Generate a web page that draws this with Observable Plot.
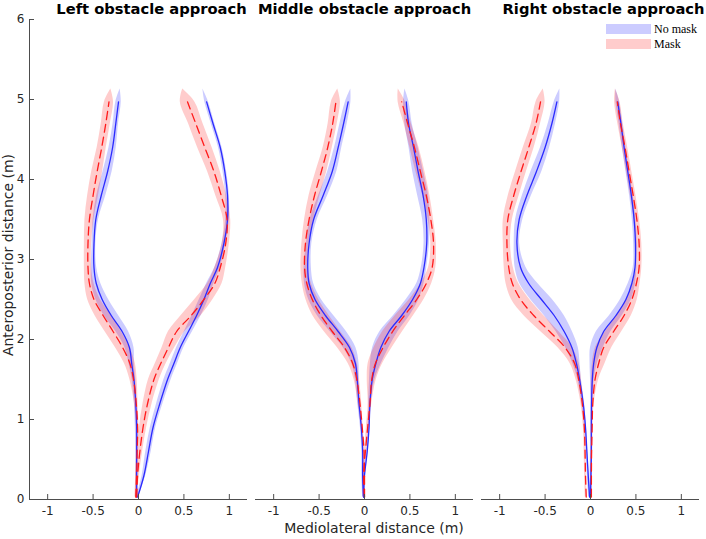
<!DOCTYPE html>
<html>
<head>
<meta charset="utf-8">
<script src="https://cdn.jsdelivr.net/npm/d3@7"></script>
<script src="https://cdn.jsdelivr.net/npm/@observablehq/plot@0.6"></script>
<style>
  html, body { margin: 0; padding: 0; background: #fff; }
  #wrap { position: relative; width: 706px; height: 539px; font-family: "DejaVu Sans", sans-serif; }
  #chart { position: absolute; left: 0; top: 0; }
  .lbl { position: absolute; color: #262626; font-size: 14px; white-space: nowrap; }
  #ylab { left: 8px; top: 255px; transform: translate(-50%, -50%) rotate(-90deg); }
  #xlab { left: 374px; top: 528px; transform: translate(-50%, -50%); }
  .leg { position: absolute; font-family: "Liberation Serif", "Times New Roman", serif; font-size: 12px; color: #000; }
  .sw { position: absolute; width: 45px; height: 10px; }
</style>
</head>
<body>
<div id="wrap">
  <div id="chart"></div>
  <div class="lbl" id="ylab">Anteroposterior distance (m)</div>
  <div class="lbl" id="xlab">Mediolateral distance (m)</div>
  <div class="sw" style="left:606px;top:24px;background:#ccccff"></div>
  <div class="leg" style="left:654px;top:22px">No mask</div>
  <div class="sw" style="left:606px;top:39px;background:#ffcccc"></div>
  <div class="leg" style="left:654px;top:37px">Mask</div>
</div>
<script>
// ---- Data ----
const panels = ["Left obstacle approach", "Middle obstacle approach", "Right obstacle approach"];
const conditions = ["No mask", "Mask"];
const xTicks = [-1, -0.5, 0, 0.5, 1];
const yTicks = [0, 1, 2, 3, 4, 5, 6];
const xDomain = [-1.2, 1.2];
const yDomain = [0, 6];

// anteroposterior levels (m) at which the mean paths were read
const levels = [0.03, 0.3, 0.6, 0.9, 1.2, 1.5, 1.7, 1.9, 2.1, 2.3, 2.5, 2.7, 2.9, 3.2, 3.5, 3.8, 4.1, 4.4, 4.7, 4.97];

// Left obstacle approach
const leftNoMaskA = [-0.02,-0.02,-0.02,-0.02,-0.03,-0.05,-0.075,-0.10,-0.18,-0.30,-0.40,-0.465,-0.49,-0.49,-0.47,-0.41,-0.34,-0.285,-0.25,-0.22];
const leftNoMaskB = [-0.01,0.06,0.11,0.16,0.235,0.32,0.39,0.46,0.55,0.64,0.72,0.79,0.87,0.94,0.98,0.98,0.95,0.90,0.82,0.75];
const leftMaskA   = [-0.03,-0.02,-0.015,-0.01,-0.025,-0.055,-0.095,-0.175,-0.28,-0.39,-0.49,-0.54,-0.556,-0.556,-0.54,-0.50,-0.455,-0.405,-0.36,-0.325];
const leftMaskB   = [-0.02,-0.01,0.015,0.05,0.10,0.17,0.245,0.33,0.42,0.58,0.72,0.84,0.90,0.96,0.975,0.91,0.83,0.73,0.63,0.54];
const leftNoMaskA_sd = [0.01,0.01,0.01,0.015,0.015,0.02,0.03,0.05,0.07,0.08,0.07,0.05,0.03,0.02,0.03,0.05,0.05,0.04,0.03,0.03];
const leftNoMaskB_sd = [0.01,0.02,0.03,0.03,0.035,0.04,0.04,0.04,0.045,0.05,0.05,0.04,0.03,0.02,0.02,0.02,0.02,0.02,0.02,0.02];
const leftMaskA_sd   = [0.01,0.01,0.01,0.015,0.02,0.04,0.06,0.08,0.09,0.09,0.07,0.05,0.04,0.04,0.05,0.06,0.06,0.05,0.05,0.05];
const leftMaskB_sd   = [0.01,0.02,0.03,0.04,0.05,0.06,0.06,0.07,0.09,0.11,0.10,0.08,0.06,0.04,0.04,0.06,0.07,0.08,0.08,0.08];

// Middle obstacle approach
const midNoMaskA = [-0.01,-0.02,-0.02,-0.035,-0.06,-0.08,-0.10,-0.165,-0.29,-0.43,-0.545,-0.61,-0.625,-0.61,-0.56,-0.455,-0.355,-0.29,-0.23,-0.18];
const midNoMaskB = [-0.01,0.0,0.03,0.05,0.06,0.085,0.125,0.18,0.27,0.41,0.53,0.615,0.655,0.685,0.68,0.645,0.59,0.54,0.485,0.46];
const midMaskA   = [0,0,-0.005,-0.025,-0.05,-0.085,-0.13,-0.22,-0.355,-0.48,-0.575,-0.635,-0.66,-0.65,-0.61,-0.55,-0.475,-0.405,-0.35,-0.315];
const midMaskB   = [0,-0.01,0.01,0.035,0.06,0.08,0.12,0.205,0.31,0.44,0.575,0.68,0.745,0.76,0.73,0.68,0.615,0.55,0.475,0.41];
const midNoMaskA_sd = [0.01,0.01,0.01,0.01,0.015,0.02,0.04,0.07,0.09,0.09,0.07,0.05,0.04,0.03,0.04,0.05,0.05,0.04,0.04,0.03];
const midNoMaskB_sd = [0.01,0.01,0.01,0.01,0.015,0.03,0.06,0.09,0.10,0.09,0.07,0.04,0.03,0.03,0.04,0.06,0.06,0.05,0.04,0.03];
const midMaskA_sd   = [0.01,0.01,0.01,0.01,0.02,0.03,0.05,0.08,0.09,0.09,0.07,0.05,0.04,0.04,0.05,0.06,0.06,0.05,0.05,0.05];
const midMaskB_sd   = [0.01,0.01,0.01,0.015,0.02,0.05,0.08,0.10,0.11,0.10,0.08,0.06,0.04,0.03,0.03,0.04,0.05,0.05,0.04,0.04];

// Right obstacle approach
const rightNoMaskA = [-0.01,-0.025,-0.04,-0.055,-0.08,-0.12,-0.155,-0.205,-0.29,-0.40,-0.54,-0.68,-0.77,-0.81,-0.785,-0.70,-0.595,-0.50,-0.425,-0.37];
const rightNoMaskB = [0,0.005,0.01,0.01,0.012,0.02,0.035,0.07,0.145,0.28,0.39,0.455,0.49,0.495,0.48,0.45,0.41,0.37,0.335,0.30];
const rightMaskA   = [-0.047,-0.055,-0.06,-0.068,-0.09,-0.13,-0.175,-0.28,-0.45,-0.625,-0.77,-0.86,-0.90,-0.92,-0.91,-0.845,-0.765,-0.68,-0.60,-0.55];
const rightMaskB   = [0.01,0.01,0.012,0.018,0.025,0.05,0.09,0.145,0.255,0.37,0.455,0.505,0.535,0.535,0.51,0.47,0.425,0.38,0.33,0.295];
const rightNoMaskA_sd = [0.01,0.01,0.01,0.01,0.015,0.02,0.04,0.07,0.09,0.11,0.12,0.10,0.06,0.03,0.04,0.05,0.06,0.05,0.04,0.03];
const rightNoMaskB_sd = [0.01,0.01,0.01,0.01,0.01,0.02,0.04,0.07,0.08,0.07,0.06,0.04,0.02,0.02,0.02,0.02,0.02,0.02,0.02,0.02];
const rightMaskA_sd   = [0.01,0.01,0.01,0.01,0.015,0.03,0.05,0.08,0.10,0.11,0.10,0.07,0.05,0.04,0.05,0.06,0.06,0.06,0.05,0.05];
const rightMaskB_sd   = [0.01,0.01,0.01,0.01,0.015,0.04,0.07,0.09,0.09,0.08,0.06,0.04,0.03,0.03,0.03,0.03,0.03,0.03,0.03,0.03];

// ---- Build tables for the library ----
const series = [
  [panels[0], conditions[0], "A", leftNoMaskA, leftNoMaskA_sd],
  [panels[0], conditions[0], "B", leftNoMaskB, leftNoMaskB_sd],
  [panels[0], conditions[1], "A", leftMaskA, leftMaskA_sd],
  [panels[0], conditions[1], "B", leftMaskB, leftMaskB_sd],
  [panels[1], conditions[0], "A", midNoMaskA, midNoMaskA_sd],
  [panels[1], conditions[0], "B", midNoMaskB, midNoMaskB_sd],
  [panels[1], conditions[1], "A", midMaskA, midMaskA_sd],
  [panels[1], conditions[1], "B", midMaskB, midMaskB_sd],
  [panels[2], conditions[0], "A", rightNoMaskA, rightNoMaskA_sd],
  [panels[2], conditions[0], "B", rightNoMaskB, rightNoMaskB_sd],
  [panels[2], conditions[1], "A", rightMaskA, rightMaskA_sd],
  [panels[2], conditions[1], "B", rightMaskB, rightMaskB_sd]
];

const lineRows = [];
const bandRows = [];
const tipExtent = 0.16; // the shaded band runs a little past the mean path's end
for (const [panel, cond, side, xs, sds] of series) {
  const key = panel + "|" + cond + "|" + side;
  levels.forEach((y, i) => {
    lineRows.push({panel, cond, key, y, x: xs[i]});
    bandRows.push({panel, cond, key, y, x1: xs[i] - sds[i], x2: xs[i] + sds[i]});
  });
  const n = levels.length;
  const slope = (xs[n - 1] - xs[n - 2]) / (levels[n - 1] - levels[n - 2]);
  const tipX = xs[n - 1] + slope * tipExtent;
  bandRows.push({panel, cond, key, y: levels[n - 1] + tipExtent, x1: tipX, x2: tipX});
}

const blue = "#2b2bff";
const red = "#ff1a1a";
const axisColor = "#4d4d4d";
const textColor = "#262626";
const titleShift = [13, 0, 13];

const titleMarks = panels.map((p, i) =>
  Plot.text([p], {
    fx: d => d, text: d => d, frameAnchor: "top", lineAnchor: "bottom",
    dy: -6, dx: titleShift[i], fontWeight: "bold", fontSize: 14.7, fill: "#000"
  })
);

const chart = Plot.plot({
  width: 706,
  height: 539,
  marginLeft: 28,
  marginRight: 7,
  marginTop: 19,
  marginBottom: 40,
  style: {fontFamily: "DejaVu Sans, sans-serif", fontSize: "12px", color: textColor, background: "transparent"},
  fx: {domain: panels, paddingInner: 0.037, paddingOuter: 0, axis: null, label: null},
  x: {domain: xDomain},
  y: {domain: yDomain},
  marks: [
    Plot.areaX(bandRows.filter(d => d.cond === conditions[0]), {
      fx: "panel", y: "y", x1: "x1", x2: "x2", z: "key",
      fill: "blue", fillOpacity: 0.2, curve: "catmull-rom"
    }),
    Plot.areaX(bandRows.filter(d => d.cond === conditions[1]), {
      fx: "panel", y: "y", x1: "x1", x2: "x2", z: "key",
      fill: "red", fillOpacity: 0.2, curve: "catmull-rom"
    }),
    Plot.line(lineRows.filter(d => d.cond === conditions[0]), {
      fx: "panel", x: "x", y: "y", z: "key",
      stroke: blue, strokeWidth: 1.3, curve: "catmull-rom"
    }),
    Plot.line(lineRows.filter(d => d.cond === conditions[1]), {
      fx: "panel", x: "x", y: "y", z: "key",
      stroke: red, strokeWidth: 1.3, strokeDasharray: "8,5", curve: "catmull-rom"
    }),
    Plot.ruleY([yDomain[0]], {stroke: axisColor, strokeWidth: 1}),
    Plot.ruleX([panels[0]], {fx: d => d, x: xDomain[0], stroke: axisColor, strokeWidth: 1}),
    Plot.axisX({ticks: xTicks, tickFormat: d => String(d), tickSize: -5, tickPadding: 11.5,
      stroke: axisColor, fill: textColor, fontSize: 12, label: null}),
    Plot.axisY({ticks: yTicks, tickFormat: d => String(d), tickSize: -5, tickPadding: 10,
      stroke: axisColor, fill: textColor, fontSize: 12, label: null}),
    ...titleMarks
  ]
});

document.getElementById("chart").appendChild(chart);
</script>
</body>
</html>
